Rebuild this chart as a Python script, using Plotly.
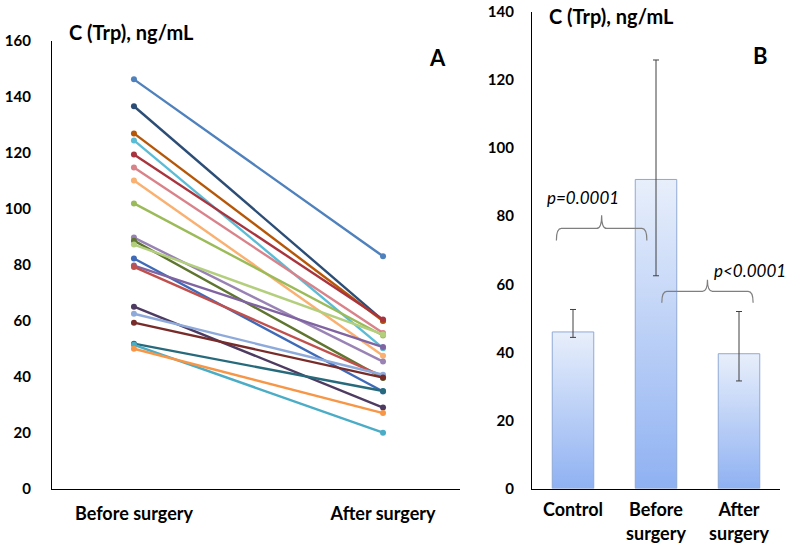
import plotly.graph_objects as go

# ---------------- Panel A data ----------------
stages = ["Before surgery", "After surgery"]
before = [146.3, 136.7, 127.0, 124.5, 119.5, 114.8, 110.2, 102.0, 89.8, 88.7,
          87.3, 82.3, 79.8, 79.3, 65.1, 62.6, 59.4, 51.9, 51.5, 50.1]
after = [83.1, 60.2, 60.0, 50.3, 60.5, 55.7, 47.6, 54.8, 45.5, 39.6,
         55.2, 34.8, 50.7, 40.2, 29.1, 40.8, 39.8, 35.0, 20.1, 27.1]
line_colors = ["#4F81BD", "#2C4D75", "#B65708", "#5BBCD6", "#A8343E",
               "#D9828A", "#F9B070", "#9BBB59", "#9983B5", "#5F7530",
               "#B3CF7E", "#3F6AB8", "#8064A2", "#C0504D", "#4D3B62",
               "#8EAADB", "#772C2A", "#276A7C", "#4BACC6", "#F79646"]

# ---------------- Panel B data ----------------
groups = ["Control", "Before<br>surgery", "After<br>surgery"]
means = [46.0, 90.8, 39.6]
err_high = [52.6, 125.9, 52.0]
err_low = [44.4, 62.5, 31.6]
p_labels = ["p=0.0001", "p<0.0001"]

FONT = "Lato"
fig = go.Figure()

for b, a, c in zip(before, after, line_colors):
    fig.add_trace(go.Scatter(
        x=[0, 1], y=[b, a], mode="lines+markers",
        line=dict(color=c, width=2.4), marker=dict(color=c, size=6),
        xaxis="x", yaxis="y", showlegend=False, hoverinfo="skip"))

half = 0.25
for i, v in enumerate(means):
    fig.add_trace(go.Scatter(
        x=[i - half, i - half, i + half, i + half, i - half],
        y=[0, v, v, 0, 0], mode="lines", fill="toself",
        line=dict(color="#8FA9D6", width=1),
        fillgradient=dict(type="vertical",
                          colorscale=[[0, "#8FB1F2"], [1, "#E8EFFB"]]),
        xaxis="x2", yaxis="y2", showlegend=False, hoverinfo="skip"))

fig.add_trace(go.Scatter(
    x=list(range(len(means))), y=means, mode="markers",
    marker=dict(size=1, color="rgba(0,0,0,0)"),
    error_y=dict(type="data", symmetric=False,
                 array=[h - m for h, m in zip(err_high, means)],
                 arrayminus=[m - l for m, l in zip(means, err_low)],
                 color="#404040", thickness=1, width=3),
    xaxis="x2", yaxis="y2", showlegend=False, hoverinfo="skip"))


def brace(x0, x1, ylow, ymid, ytop):
    xm = (x0 + x1) / 2
    r = 0.06
    return (f"M {x0},{ylow} Q {x0},{ymid} {x0 + r},{ymid} "
            f"L {xm - r},{ymid} Q {xm},{ymid} {xm},{ytop} "
            f"Q {xm},{ymid} {xm + r},{ymid} "
            f"L {x1 - r},{ymid} Q {x1},{ymid} {x1},{ylow}")


shapes = [
    dict(type="path", xref="x2", yref="y2", path=brace(-0.2, 0.89, 72.9, 76.4, 80.3),
         line=dict(color="#7F7F7F", width=1.2)),
    dict(type="path", xref="x2", yref="y2", path=brace(1.07, 2.17, 54.6, 57.9, 61.3),
         line=dict(color="#7F7F7F", width=1.2)),
]

num_font = dict(family=FONT, size=15, color="#000000")
cat_font = dict(family=FONT, size=18, color="#000000")
annotations = [
    dict(text="<b>C (Trp), ng/mL</b>", x=67, y=549 - 32, xref="paper", yref="paper",
         showarrow=False, xanchor="left", yanchor="middle", font=dict(family=FONT, size=20)),
    dict(text="<b>A</b>", x=437, y=549 - 57, xref="paper", yref="paper",
         showarrow=False, xanchor="center", yanchor="middle", font=dict(family=FONT, size=22)),
    dict(text="<b>C (Trp), ng/mL</b>", x=547, y=549 - 16, xref="paper", yref="paper",
         showarrow=False, xanchor="left", yanchor="middle", font=dict(family=FONT, size=20)),
    dict(text="<b>B</b>", x=760, y=549 - 56, xref="paper", yref="paper",
         showarrow=False, xanchor="center", yanchor="middle", font=dict(family=FONT, size=22)),
    dict(text=f"<i>{p_labels[0]}</i>", x=583, y=549 - 198, xref="paper", yref="paper",
         showarrow=False, xanchor="center", yanchor="middle", font=dict(family=FONT, size=17)),
    dict(text=f"<i>{p_labels[1]}</i>", x=750, y=549 - 270, xref="paper", yref="paper",
         showarrow=False, xanchor="center", yanchor="middle", font=dict(family=FONT, size=17)),
]
for an in annotations:
    an["x"] = an["x"] / 792
    an["y"] = an["y"] / 549

common = dict(showgrid=False, zeroline=False, showline=True, linecolor="#000000",
              linewidth=1.3, ticks="", automargin=False)

fig.update_layout(
    width=792, height=549, margin=dict(l=0, r=0, t=0, b=0, autoexpand=False),
    paper_bgcolor="white", plot_bgcolor="white",
    font=dict(family=FONT, color="#000000"),
    shapes=shapes, annotations=annotations,
    xaxis=dict(domain=[52 / 792, 460 / 792], range=[-0.329, 1.309],
               tickvals=[0, 1], ticktext=[f"<b>{s}</b>" for s in stages],
               ticklabelstandoff=8, tickfont=cat_font, anchor="y", **common),
    yaxis=dict(domain=[(549 - 489) / 549, (549 - 41) / 549], range=[0, 160],
               tickvals=list(range(0, 161, 20)),
               ticktext=[f"<b>{v}</b>" for v in range(0, 161, 20)],
               ticklabelstandoff=17, tickfont=num_font, anchor="x", **common),
    xaxis2=dict(domain=[532 / 792, 780 / 792], range=[-0.494, 2.494],
                tickvals=[0, 1, 2], ticktext=[f"<b>{g}</b>" for g in groups],
                ticklabelstandoff=5, tickfont=cat_font, anchor="y2", **common),
    yaxis2=dict(domain=[(549 - 488.5) / 549, (549 - 12) / 549], range=[0, 140],
                tickvals=list(range(0, 141, 20)),
                ticktext=[f"<b>{v}</b>" for v in range(0, 141, 20)],
                ticklabelstandoff=14, tickfont=num_font, anchor="x2", **common),
)

fig.write_html("out.html", config={"displayModeBar": False},
               post_script="document.body.style.margin='0';"
                           "document.body.style.overflow='hidden';")
